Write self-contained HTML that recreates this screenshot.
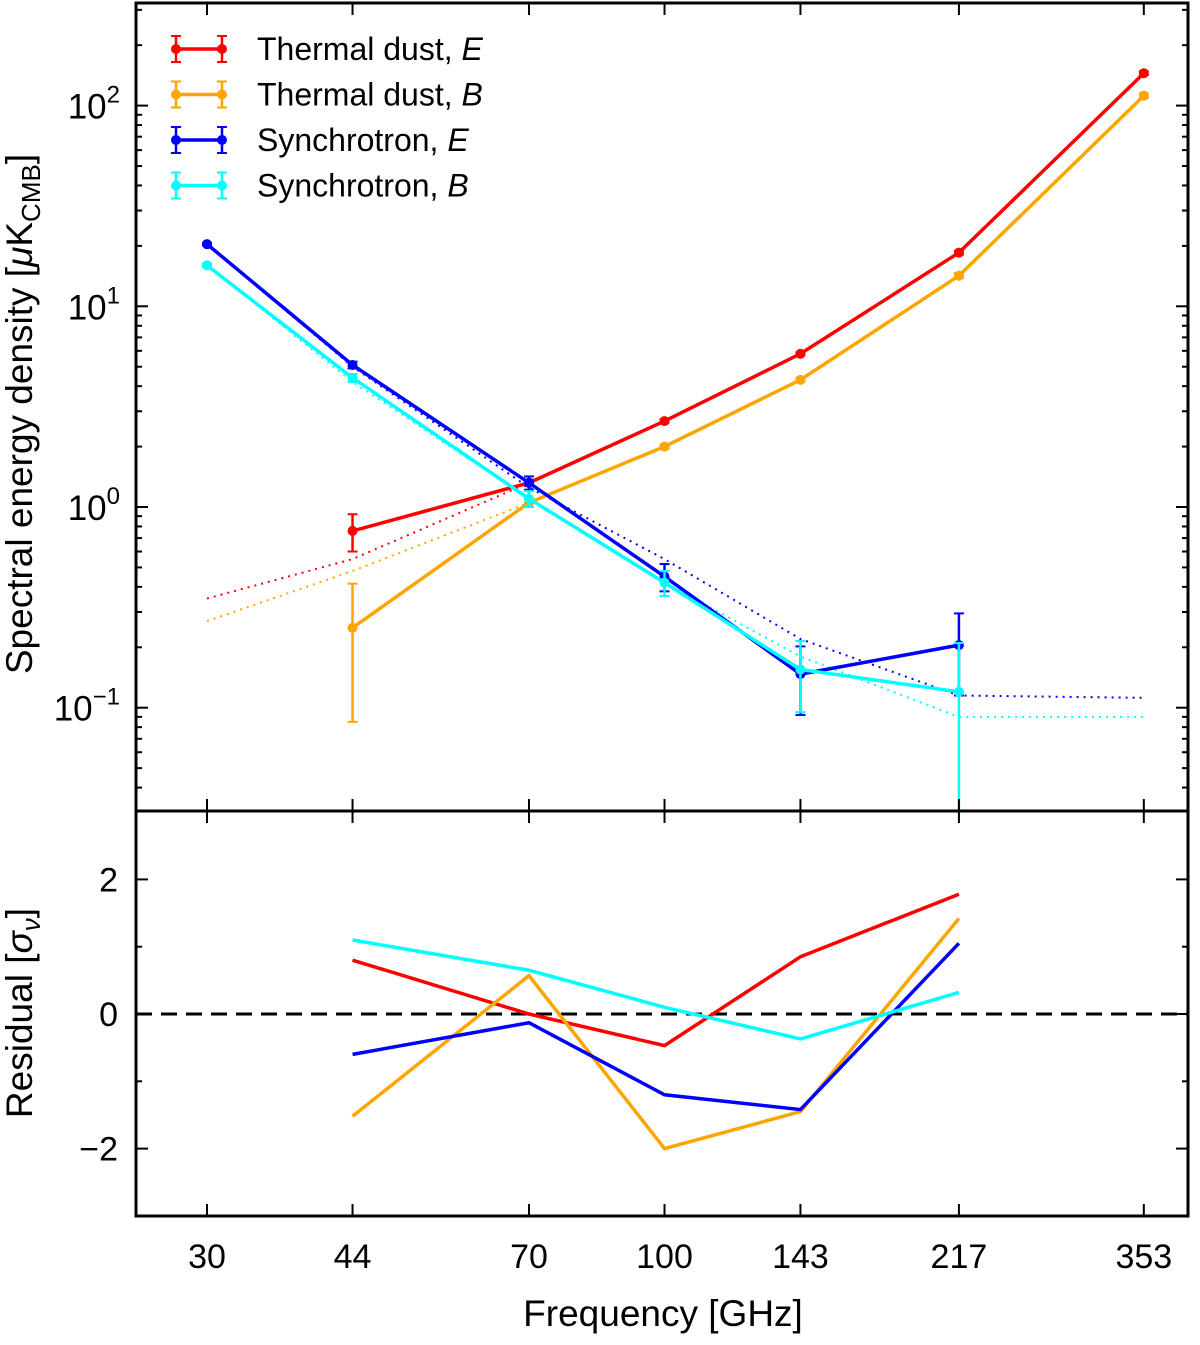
<!DOCTYPE html>
<html><head><meta charset="utf-8"><style>
body{margin:0;background:#fff}
svg{display:block;font-family:"Liberation Sans","DejaVu Sans",sans-serif}
</style></head><body>
<svg id="chart" width="1200" height="1345" viewBox="0 0 1200 1345" xmlns="http://www.w3.org/2000/svg"></svg>
<script>
const freqs=[30,44,70,100,143,217,353];
const dustE=[null,0.76,1.32,2.68,5.8,18.5,145];
const dustEerr=[null,0.16,0.05,0.05,0.1,0.4,3];
const dustB=[null,0.25,1.05,2.0,4.3,14.2,112];
const dustBerr=[null,0.165,0.05,0.05,0.1,0.4,3];
const syncE=[20.4,5.1,1.32,0.45,0.147,0.205];
const syncEerr=[0.3,0.2,0.1,0.07,0.055,0.09];
const syncB=[16,4.4,1.1,0.42,0.155,0.12];
const syncBerr=[0.3,0.2,0.1,0.06,0.06,0.09];
const dustEmodel=[0.35,0.55,1.32];
const dustBmodel=[0.27,0.48,1.05];
const syncEmodel=[20.4,5.0,1.25,0.55,0.22,0.115,0.112];
const syncBmodel=[16,4.2,1.1,0.42,0.18,0.09,0.09];
const residE=[null,0.8,0.0,-0.47,0.85,1.78];
const residB=[null,-1.52,0.57,-2.0,-1.45,1.42];
const residSE=[null,-0.6,-0.13,-1.2,-1.42,1.05];
const residSB=[null,1.1,0.65,0.1,-0.37,0.32];
const yTicks=[-1,0,1,2];
const rTicks=[-2,0,2];

const svg=document.getElementById('chart');
const NS='http://www.w3.org/2000/svg';
const L=136,R=1188,T1=3,B1=811,B2=1216;
const X=f=>207+(Math.log10(f)-Math.log10(30))*875;
const Y=v=>507-Math.log10(v)*200.7;
const RY=v=>1014-v*67.3;
function el(t,a,p){const e=document.createElementNS(NS,t);for(const k in a)e.setAttribute(k,a[k]);(p||svg).appendChild(e);return e;}
function pts(xs,ys,fy){return xs.map((f,i)=>ys[i]==null?null:X(f)+','+fy(ys[i])).filter(s=>s).join(' ');}

const defs=el('defs',{});const cp=el('clipPath',{id:'c1'},defs);el('rect',{x:L,y:T1,width:R-L,height:B1-T1},cp);
const cp2=el('clipPath',{id:'c2'},defs);el('rect',{x:L,y:B1,width:R-L,height:B2-B1},cp2);
const g1=el('g',{'clip-path':'url(#c1)'});



function model(vals,col,name,xs){const p=el('polyline',{points:pts(xs,vals,Y),fill:'none',stroke:col,'stroke-width':2,'stroke-dasharray':'2,5'},g1);

}
model(dustEmodel,'#f00','dust-e-model',freqs.slice(0,3));
model(dustBmodel,'#ffa500','dust-b-model',freqs.slice(0,3));
model(syncEmodel,'#00f','sync-e-model',freqs);
model(syncBmodel,'#0ff','sync-b-model',freqs);

function series(vals,errs,col,name){
 const xs=freqs.slice(0,vals.length);
 const p=el('polyline',{points:pts(xs,vals,Y),fill:'none',stroke:col,'stroke-width':3.5},g1);
 
 
 vals.forEach((v,i)=>{if(v==null)return;const x=X(xs[i]);
  const lo=Math.max(v-errs[i],1e-3),hi=v+errs[i];
  el('line',{x1:x,x2:x,y1:Y(lo),y2:Y(hi),stroke:col,'stroke-width':2.5},g1);
  el('line',{x1:x-5,x2:x+5,y1:Y(lo),y2:Y(lo),stroke:col,'stroke-width':2},g1);
  el('line',{x1:x-5,x2:x+5,y1:Y(hi),y2:Y(hi),stroke:col,'stroke-width':2},g1);
  const c=el('circle',{cx:x,cy:Y(v),r:5,fill:col},g1);
  
  });
}
series(dustE,dustEerr,'#f00','dust-e');
series(dustB,dustBerr,'#ffa500','dust-b');
series(syncE,syncEerr,'#00f','sync-e');
series(syncB,syncBerr,'#0ff','sync-b');

const g2=el('g',{'clip-path':'url(#c2)'});


const zl=el('line',{x1:L,x2:R,y1:RY(0),y2:RY(0),stroke:'#000','stroke-width':3,'stroke-dasharray':'16,9'},g2);


[[residE,'#f00','resid-dust-e'],[residB,'#ffa500','resid-dust-b'],[residSE,'#00f','resid-sync-e'],[residSB,'#0ff','resid-sync-b']].forEach(([v,c,n])=>{
 const p=el('polyline',{points:pts(freqs.slice(0,v.length),v,RY),fill:'none',stroke:c,'stroke-width':3.5},g2);
 
 });

el('rect',{x:L,y:T1,width:R-L,height:B1-T1,fill:'none',stroke:'#000','stroke-width':3});
el('rect',{x:L,y:B1,width:R-L,height:B2-B1,fill:'none',stroke:'#000','stroke-width':3});

freqs.forEach(f=>{const x=X(f);
 [[T1,1],[B1,-1],[B1,1],[B2,-1]].forEach(([y,d])=>el('line',{x1:x,x2:x,y1:y,y2:y+d*12,stroke:'#000','stroke-width':2}));
 const t=el('text',{x:x,y:1268,'font-size':34,'text-anchor':'middle'});t.textContent=f;
 
 });
for(let e=-2;e<=2;e++){for(let m=1;m<10;m++){const y=Y(m*Math.pow(10,e));if(y<T1||y>B1)continue;const len=m==1?12:6;
 el('line',{x1:L,x2:L+len,y1:y,y2:y,stroke:'#000','stroke-width':2});el('line',{x1:R,x2:R-len,y1:y,y2:y,stroke:'#000','stroke-width':2});}}
yTicks.forEach(e=>{const t=el('text',{x:120,y:Y(Math.pow(10,e))+13,'font-size':35,'text-anchor':'end'});
 t.innerHTML='10<tspan dy="-16" font-size="24">'+(e<0?'\u2212'+(-e):e)+'</tspan>';
 
 });
rTicks.forEach(v=>{const y=RY(v);el('line',{x1:L,x2:L+12,y1:y,y2:y,stroke:'#000','stroke-width':2});el('line',{x1:R,x2:R-12,y1:y,y2:y,stroke:'#000','stroke-width':2});
 const t=el('text',{x:118,y:y+12,'font-size':34,'text-anchor':'end'});t.textContent=v<0?'\u2212'+(-v):v;
 
 });
[-1,1].forEach(v=>{const y=RY(v);el('line',{x1:L,x2:L+6,y1:y,y2:y,stroke:'#000','stroke-width':2});el('line',{x1:R,x2:R-6,y1:y,y2:y,stroke:'#000','stroke-width':2});});

let t=el('text',{x:663,y:1326,'font-size':37,'text-anchor':'middle'});t.textContent='Frequency [GHz]';


t=el('text',{x:0,y:0,'font-size':37,'text-anchor':'middle',transform:'translate(32,414) rotate(-90)'});
t.innerHTML='Spectral energy density [<tspan font-style="italic">μ</tspan>K<tspan dy="8" font-size="26">CMB</tspan><tspan dy="-8">]</tspan>';


t=el('text',{x:0,y:0,'font-size':37,'text-anchor':'middle',transform:'translate(32,1013) rotate(-90)'});
t.innerHTML='Residual [<tspan font-style="italic">σ</tspan><tspan dy="8" font-size="26" font-style="italic">ν</tspan><tspan dy="-8">]</tspan>';



const legNames=['Thermal dust, ','Thermal dust, ','Synchrotron, ','Synchrotron, '];
const legIt=['E','B','E','B'];
const legCols=['#f00','#ffa500','#00f','#0ff'];
legNames.forEach((n,i)=>{const y=49+i*45.5;const g=el('g',{});
 
 
 const c=legCols[i];
 el('line',{x1:176,x2:222,y1:y,y2:y,stroke:c,'stroke-width':3.5},g);
 [176,222].forEach(x=>{el('line',{x1:x,x2:x,y1:y-13,y2:y+13,stroke:c,'stroke-width':2.5},g);el('line',{x1:x-5,x2:x+5,y1:y-13,y2:y-13,stroke:c,'stroke-width':2},g);el('line',{x1:x-5,x2:x+5,y1:y+13,y2:y+13,stroke:c,'stroke-width':2},g);el('circle',{cx:x,cy:y,r:5,fill:c},g);});
 const tx=el('text',{x:257,y:y+11,'font-size':32},g);tx.innerHTML=n+'<tspan font-style="italic">'+legIt[i]+'</tspan>';});
</script>
</body></html>
